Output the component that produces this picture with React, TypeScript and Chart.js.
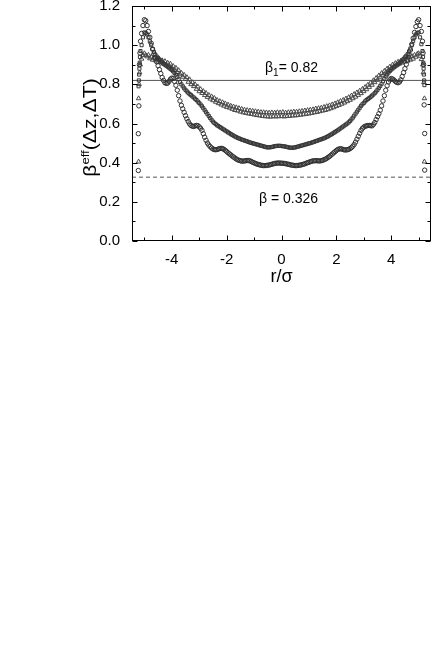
import { useEffect, useRef } from "react";
import { Chart, registerables } from "chart.js";

Chart.register(...registerables);

// ---- data ----
const rGrid = [
  -5.10, -5.05, -5.00, -4.95, -4.90, -4.85, -4.80, -4.75, -4.70, -4.65,
  -4.60, -4.55, -4.50, -4.45, -4.40, -4.35, -4.30, -4.25, -4.20, -4.15,
  -4.10, -4.05, -4.00, -3.95, -3.90, -3.85, -3.80, -3.75, -3.70, -3.65,
  -3.60, -3.55, -3.50, -3.45, -3.40, -3.35, -3.30, -3.25, -3.20, -3.15,
  -3.10, -3.05, -3.00, -2.95, -2.90, -2.85, -2.80, -2.75, -2.70, -2.65,
  -2.60, -2.55, -2.50, -2.45, -2.40, -2.35, -2.30, -2.25, -2.20, -2.15,
  -2.10, -2.05, -2.00, -1.95, -1.90, -1.85, -1.80, -1.75, -1.70, -1.65,
  -1.60, -1.55, -1.50, -1.45, -1.40, -1.35, -1.30, -1.25, -1.20, -1.15,
  -1.10, -1.05, -1.00, -0.95, -0.90, -0.85, -0.80, -0.75, -0.70, -0.65,
  -0.60, -0.55, -0.50, -0.45, -0.40, -0.35, -0.30, -0.25, -0.20, -0.15,
  -0.10, -0.05, 0.00, 0.05, 0.10, 0.15, 0.20, 0.25, 0.30, 0.35,
  0.40, 0.45, 0.50, 0.55, 0.60, 0.65, 0.70, 0.75, 0.80, 0.85,
  0.90, 0.95, 1.00, 1.05, 1.10, 1.15, 1.20, 1.25, 1.30, 1.35,
  1.40, 1.45, 1.50, 1.55, 1.60, 1.65, 1.70, 1.75, 1.80, 1.85,
  1.90, 1.95, 2.00, 2.05, 2.10, 2.15, 2.20, 2.25, 2.30, 2.35,
  2.40, 2.45, 2.50, 2.55, 2.60, 2.65, 2.70, 2.75, 2.80, 2.85,
  2.90, 2.95, 3.00, 3.05, 3.10, 3.15, 3.20, 3.25, 3.30, 3.35,
  3.40, 3.45, 3.50, 3.55, 3.60, 3.65, 3.70, 3.75, 3.80, 3.85,
  3.90, 3.95, 4.00, 4.05, 4.10, 4.15, 4.20, 4.25, 4.30, 4.35,
  4.40, 4.45, 4.50, 4.55, 4.60, 4.65, 4.70, 4.75, 4.80, 4.85,
  4.90, 4.95, 5.00, 5.05, 5.10,
];

// lowest curve (circles)
const betaCircles = [
  1.06, 1.10, 1.13, 1.125, 1.10, 1.07, 1.04, 1.01, 0.98, 0.955,
  0.935, 0.915, 0.895, 0.875, 0.855, 0.835, 0.82, 0.808, 0.805, 0.806,
  0.815, 0.826, 0.832, 0.83, 0.815, 0.795, 0.77, 0.742, 0.715, 0.693,
  0.675, 0.657, 0.64, 0.624, 0.61, 0.598, 0.59, 0.586, 0.585, 0.588,
  0.59, 0.589, 0.583, 0.576, 0.565, 0.548, 0.53, 0.514, 0.50, 0.49,
  0.482, 0.475, 0.47, 0.467, 0.466, 0.467, 0.47, 0.472, 0.473, 0.472,
  0.468, 0.463, 0.457, 0.451, 0.445, 0.44, 0.434, 0.429, 0.424, 0.419,
  0.415, 0.412, 0.41, 0.408, 0.408, 0.409, 0.41, 0.411, 0.411, 0.409,
  0.406, 0.402, 0.399, 0.396, 0.393, 0.391, 0.389, 0.387, 0.386, 0.385,
  0.385, 0.386, 0.387, 0.388, 0.39, 0.392, 0.394, 0.396, 0.397, 0.398,
  0.398, 0.398, 0.397, 0.397, 0.396, 0.395, 0.393, 0.392, 0.39, 0.388,
  0.387, 0.386, 0.385, 0.385, 0.386, 0.387, 0.388, 0.39, 0.392, 0.394,
  0.397, 0.40, 0.402, 0.405, 0.407, 0.409, 0.41, 0.41, 0.41, 0.409,
  0.409, 0.41, 0.412, 0.415, 0.418, 0.422, 0.427, 0.432, 0.438, 0.444,
  0.45, 0.456, 0.462, 0.467, 0.47, 0.471, 0.47, 0.467, 0.465, 0.465,
  0.466, 0.468, 0.472, 0.477, 0.484, 0.493, 0.505, 0.52, 0.535, 0.55,
  0.565, 0.575, 0.582, 0.586, 0.588, 0.59, 0.59, 0.589, 0.588, 0.595,
  0.605, 0.62, 0.635, 0.65, 0.668, 0.69, 0.715, 0.742, 0.77, 0.793,
  0.812, 0.823, 0.83, 0.827, 0.822, 0.815, 0.81, 0.808, 0.812, 0.823,
  0.84, 0.86, 0.88, 0.902, 0.925, 0.95, 0.975, 1.005, 1.035, 1.065,
  1.095, 1.12, 1.13, 1.10, 1.07,
];

// middle curve (squares)
const betaSquares = [
  1.00, 1.04, 1.065, 1.062, 1.055, 1.04, 1.02, 1.0, 0.98, 0.965,
  0.952, 0.942, 0.935, 0.926, 0.92, 0.912, 0.906, 0.90, 0.895, 0.89,
  0.885, 0.879, 0.873, 0.866, 0.858, 0.849, 0.838, 0.826, 0.812, 0.80,
  0.79, 0.78, 0.772, 0.764, 0.757, 0.75, 0.745, 0.738, 0.733, 0.726,
  0.72, 0.712, 0.705, 0.697, 0.688, 0.678, 0.668, 0.658, 0.648, 0.638,
  0.628, 0.619, 0.61, 0.603, 0.597, 0.591, 0.587, 0.582, 0.578, 0.573,
  0.569, 0.564, 0.56, 0.555, 0.551, 0.546, 0.542, 0.538, 0.534, 0.53,
  0.527, 0.524, 0.521, 0.518, 0.516, 0.513, 0.511, 0.508, 0.506, 0.503,
  0.501, 0.499, 0.497, 0.495, 0.493, 0.491, 0.489, 0.487, 0.485, 0.483,
  0.481, 0.479, 0.478, 0.478, 0.479, 0.48, 0.482, 0.484, 0.485, 0.486,
  0.486, 0.486, 0.485, 0.484, 0.483, 0.482, 0.48, 0.478, 0.477, 0.476,
  0.476, 0.477, 0.478, 0.48, 0.482, 0.484, 0.486, 0.488, 0.49, 0.492,
  0.494, 0.496, 0.498, 0.50, 0.502, 0.505, 0.507, 0.51, 0.512, 0.515,
  0.517, 0.52, 0.522, 0.525, 0.528, 0.531, 0.535, 0.539, 0.543, 0.547,
  0.552, 0.556, 0.561, 0.565, 0.57, 0.575, 0.58, 0.585, 0.59, 0.595,
  0.60, 0.606, 0.613, 0.621, 0.63, 0.64, 0.65, 0.66, 0.67, 0.68,
  0.69, 0.698, 0.705, 0.713, 0.72, 0.725, 0.73, 0.736, 0.742, 0.748,
  0.755, 0.763, 0.772, 0.782, 0.792, 0.803, 0.815, 0.828, 0.84, 0.85,
  0.86, 0.868, 0.875, 0.881, 0.887, 0.892, 0.897, 0.902, 0.908, 0.915,
  0.922, 0.93, 0.938, 0.946, 0.955, 0.968, 0.983, 1.0, 1.022, 1.04,
  1.055, 1.062, 1.065, 1.04, 1.005,
];

// upper, noisy curve (triangles)
const betaTriangles = [
  0.93, 0.948, 0.958, 0.95, 0.942, 0.95, 0.932, 0.94, 0.925, 0.935,
  0.922, 0.93, 0.915, 0.928, 0.912, 0.922, 0.905, 0.918, 0.90, 0.91,
  0.895, 0.905, 0.885, 0.893, 0.874, 0.884, 0.862, 0.872, 0.85, 0.858,
  0.838, 0.848, 0.826, 0.836, 0.812, 0.825, 0.80, 0.81, 0.79, 0.80,
  0.776, 0.788, 0.764, 0.775, 0.755, 0.765, 0.744, 0.755, 0.735, 0.745,
  0.726, 0.738, 0.718, 0.73, 0.71, 0.72, 0.703, 0.714, 0.696, 0.708,
  0.69, 0.702, 0.684, 0.696, 0.68, 0.69, 0.674, 0.686, 0.668, 0.682,
  0.665, 0.678, 0.66, 0.674, 0.656, 0.67, 0.653, 0.668, 0.65, 0.666,
  0.648, 0.664, 0.645, 0.662, 0.642, 0.66, 0.64, 0.658, 0.638, 0.657,
  0.636, 0.656, 0.635, 0.655, 0.634, 0.656, 0.636, 0.655, 0.635, 0.657,
  0.636, 0.656, 0.637, 0.658, 0.635, 0.655, 0.637, 0.657, 0.638, 0.658,
  0.64, 0.66, 0.64, 0.66, 0.642, 0.662, 0.644, 0.664, 0.646, 0.666,
  0.648, 0.668, 0.65, 0.67, 0.653, 0.672, 0.656, 0.676, 0.658, 0.678,
  0.662, 0.68, 0.665, 0.684, 0.668, 0.688, 0.672, 0.692, 0.677, 0.697,
  0.682, 0.702, 0.688, 0.708, 0.694, 0.714, 0.70, 0.72, 0.706, 0.727,
  0.713, 0.734, 0.72, 0.742, 0.728, 0.75, 0.736, 0.758, 0.745, 0.767,
  0.754, 0.776, 0.764, 0.786, 0.774, 0.797, 0.786, 0.808, 0.797, 0.82,
  0.81, 0.832, 0.822, 0.845, 0.835, 0.857, 0.848, 0.868, 0.86, 0.88,
  0.872, 0.89, 0.882, 0.90, 0.893, 0.908, 0.90, 0.915, 0.905, 0.92,
  0.91, 0.926, 0.915, 0.932, 0.92, 0.938, 0.925, 0.944, 0.93, 0.95,
  0.94, 0.955, 0.958, 0.945, 0.928,
];

// points at the walls (r ~ ±5.2)
const wallRCircles = [-5.14, -5.16, -5.18, -5.2, -5.22, -5.22, 5.14, 5.16, 5.18, 5.2, 5.22, 5.22];
const wallVCircles = [1.02, 0.96, 0.9, 0.69, 0.548, 0.36, 1.02, 0.96, 0.9, 0.695, 0.549, 0.362];
const wallRSquares = [-5.14, -5.16, -5.17, -5.18, -5.19, -5.2, -5.21, 5.14, 5.16, 5.17, 5.18, 5.19, 5.2, 5.21];
const wallVSquares = [0.97, 0.94, 0.91, 0.88, 0.85, 0.82, 0.79, 0.97, 0.94, 0.91, 0.88, 0.85, 0.82, 0.796];
const wallRTriangles = [-5.15, -5.17, -5.19, -5.21, -5.21, 5.15, 5.17, 5.19, 5.21, 5.21];
const wallVTriangles = [0.9, 0.86, 0.8, 0.728, 0.405, 0.9, 0.86, 0.81, 0.728, 0.405];

const beta1Level = 0.82;
const betaLevel = 0.326;

const xRange = [-5.45, 5.45];
const yRange = [0, 1.2];
const xMajorTicks = [-4, -2, 0, 2, 4];
const xMinorTicks = [-5, -3, -1, 1, 3, 5];
const yMajorTicks = [0, 0.2, 0.4, 0.6, 0.8, 1.0, 1.2];
const yMinorTicks = [0.1, 0.3, 0.5, 0.7, 0.9, 1.1];

const FONT = '"Liberation Sans", Arial, sans-serif';

function toPoints(xs: number[], ys: number[]) {
  return xs.map((x, i) => ({ x, y: ys[i] }));
}

const framePlugin = {
  id: "frame",
  afterDraw(chart: any) {
    const { ctx, chartArea } = chart;
    const { left, right, top, bottom } = chartArea;
    const xs = chart.scales.x;
    const ys = chart.scales.y;
    ctx.save();
    ctx.strokeStyle = "#000";
    ctx.lineWidth = 1;
    ctx.strokeRect(Math.round(left) + 0.5, Math.round(top) + 0.5, Math.round(right - left) - 1, Math.round(bottom - top) - 1);
    const L = Math.round(left) + 0.5;
    const R = Math.round(right) - 0.5;
    const T = Math.round(top) + 0.5;
    const B = Math.round(bottom) - 0.5;
    ctx.beginPath();
    const xt = (v: number, len: number) => {
      const p = Math.round(xs.getPixelForValue(v)) + 0.5;
      ctx.moveTo(p, B); ctx.lineTo(p, B - len);
      ctx.moveTo(p, T); ctx.lineTo(p, T + len);
    };
    const yt = (v: number, len: number) => {
      const p = Math.round(ys.getPixelForValue(v)) + 0.5;
      ctx.moveTo(L, p); ctx.lineTo(L + len, p);
      ctx.moveTo(R, p); ctx.lineTo(R - len, p);
    };
    xMajorTicks.forEach((v) => xt(v, 5));
    xMinorTicks.forEach((v) => xt(v, 3));
    yMajorTicks.forEach((v) => yt(v, 5));
    yMinorTicks.forEach((v) => yt(v, 3));
    ctx.stroke();

    // annotations
    ctx.fillStyle = "#000";
    ctx.textBaseline = "alphabetic";
    ctx.textAlign = "left";
    let ax = xs.getPixelForValue(-0.6);
    const ay = ys.getPixelForValue(0.863);
    ctx.font = `14px ${FONT}`;
    ctx.fillText("β", ax, ay);
    ax += ctx.measureText("β").width;
    ctx.font = `10px ${FONT}`;
    ctx.fillText("1", ax, ay + 4);
    ax += ctx.measureText("1").width;
    ctx.font = `14px ${FONT}`;
    ctx.fillText("= 0.82", ax, ay);
    ctx.fillText("β = 0.326", xs.getPixelForValue(-0.82), ys.getPixelForValue(0.194));

    // x title
    ctx.font = `18px ${FONT}`;
    ctx.textAlign = "center";
    ctx.fillText("r/σ", (left + right) / 2, 282);

    // y title (rotated)
    ctx.translate(96, (top + bottom) / 2 + 4);
    ctx.rotate(-Math.PI / 2);
    ctx.scale(1.18, 1);
    ctx.textAlign = "left";
    const big = `18px ${FONT}`;
    const small = `11px ${FONT}`;
    ctx.font = big;
    const w1 = ctx.measureText("β").width;
    const w3 = ctx.measureText("(Δz,ΔT)").width;
    ctx.font = small;
    const w2 = ctx.measureText("eff").width;
    let tx = -(w1 + w2 + w3) / 2;
    ctx.font = big;
    ctx.fillText("β", tx, 0);
    tx += w1;
    ctx.font = small;
    ctx.fillText("eff", tx, -7);
    tx += w2;
    ctx.font = big;
    ctx.fillText("(Δz,ΔT)", tx, 0);
    ctx.restore();
  },
};

export default function App() {
  const ref = useRef<HTMLCanvasElement>(null);
  useEffect(() => {
    const canvas = ref.current;
    if (!canvas) return;
    const pointCommon = {
      showLine: false,
      pointRadius: 2.2,
      pointBorderWidth: 1,
      pointBackgroundColor: "rgba(255,255,255,0)",
    };
    const chart = new Chart(canvas, {
      type: "scatter",
      data: {
        datasets: [
          {
            ...pointCommon,
            data: [...toPoints(rGrid, betaTriangles), ...toPoints(wallRTriangles, wallVTriangles)],
            pointStyle: "triangle",
            pointRadius: 2.6,
            borderColor: "#4a4a4a",
            pointBorderColor: "#4a4a4a",
            order: 3,
          },
          {
            ...pointCommon,
            data: [...toPoints(rGrid, betaSquares), ...toPoints(wallRSquares, wallVSquares)],
            pointStyle: "rect",
            borderColor: "#383838",
            pointBorderColor: "#383838",
            order: 2,
          },
          {
            ...pointCommon,
            data: [...toPoints(rGrid, betaCircles), ...toPoints(wallRCircles, wallVCircles)],
            pointStyle: "circle",
            borderColor: "#303030",
            pointBorderColor: "#303030",
            order: 1,
          },
          {
            type: "line",
            data: toPoints(xRange, [beta1Level, beta1Level]),
            borderColor: "#555",
            borderWidth: 1,
            pointRadius: 0,
            showLine: true,
            order: 10,
          } as any,
          {
            type: "line",
            data: toPoints(xRange, [betaLevel, betaLevel]),
            borderColor: "#555",
            borderWidth: 1,
            borderDash: [4, 3],
            pointRadius: 0,
            showLine: true,
            order: 11,
          } as any,
        ],
      },
      options: {
        responsive: false,
        animation: false,
        layout: { padding: { top: 6, right: 1, bottom: 0, left: 0 } },
        plugins: { legend: { display: false }, tooltip: { enabled: false } },
        scales: {
          x: {
            type: "linear",
            min: xRange[0],
            max: xRange[1],
            grid: { display: false },
            border: { display: false },
            ticks: {
              autoSkip: false,
              maxRotation: 0,
              padding: 2,
              color: "#000",
              font: { family: FONT, size: 15 },
              callback: (v: any) => String(v),
            },
            afterBuildTicks: (s: any) => {
              s.ticks = xMajorTicks.map((v) => ({ value: v }));
            },
            afterFit: (s: any) => {
              s.height = 59;
              s.paddingLeft = 0;
              s.paddingRight = 0;
            },
          },
          y: {
            type: "linear",
            min: yRange[0],
            max: yRange[1],
            grid: { display: false },
            border: { display: false },
            ticks: {
              autoSkip: false,
              padding: 4,
              color: "#000",
              font: { family: FONT, size: 15 },
              callback: (v: any) => Number(v).toFixed(1),
            },
            afterBuildTicks: (s: any) => {
              s.ticks = yMajorTicks.map((v) => ({ value: v }));
            },
            afterFit: (s: any) => {
              s.width = 132;
              s.paddingTop = 0;
              s.paddingBottom = 0;
            },
          },
        },
      },
      plugins: [framePlugin],
    } as any);
    return () => chart.destroy();
  }, []);
  return (
    <div style={{ position: "absolute", left: 0, top: 0, width: 436, height: 300 }}>
      <canvas ref={ref} width={436} height={300} style={{ display: "block" }} />
    </div>
  );
}
